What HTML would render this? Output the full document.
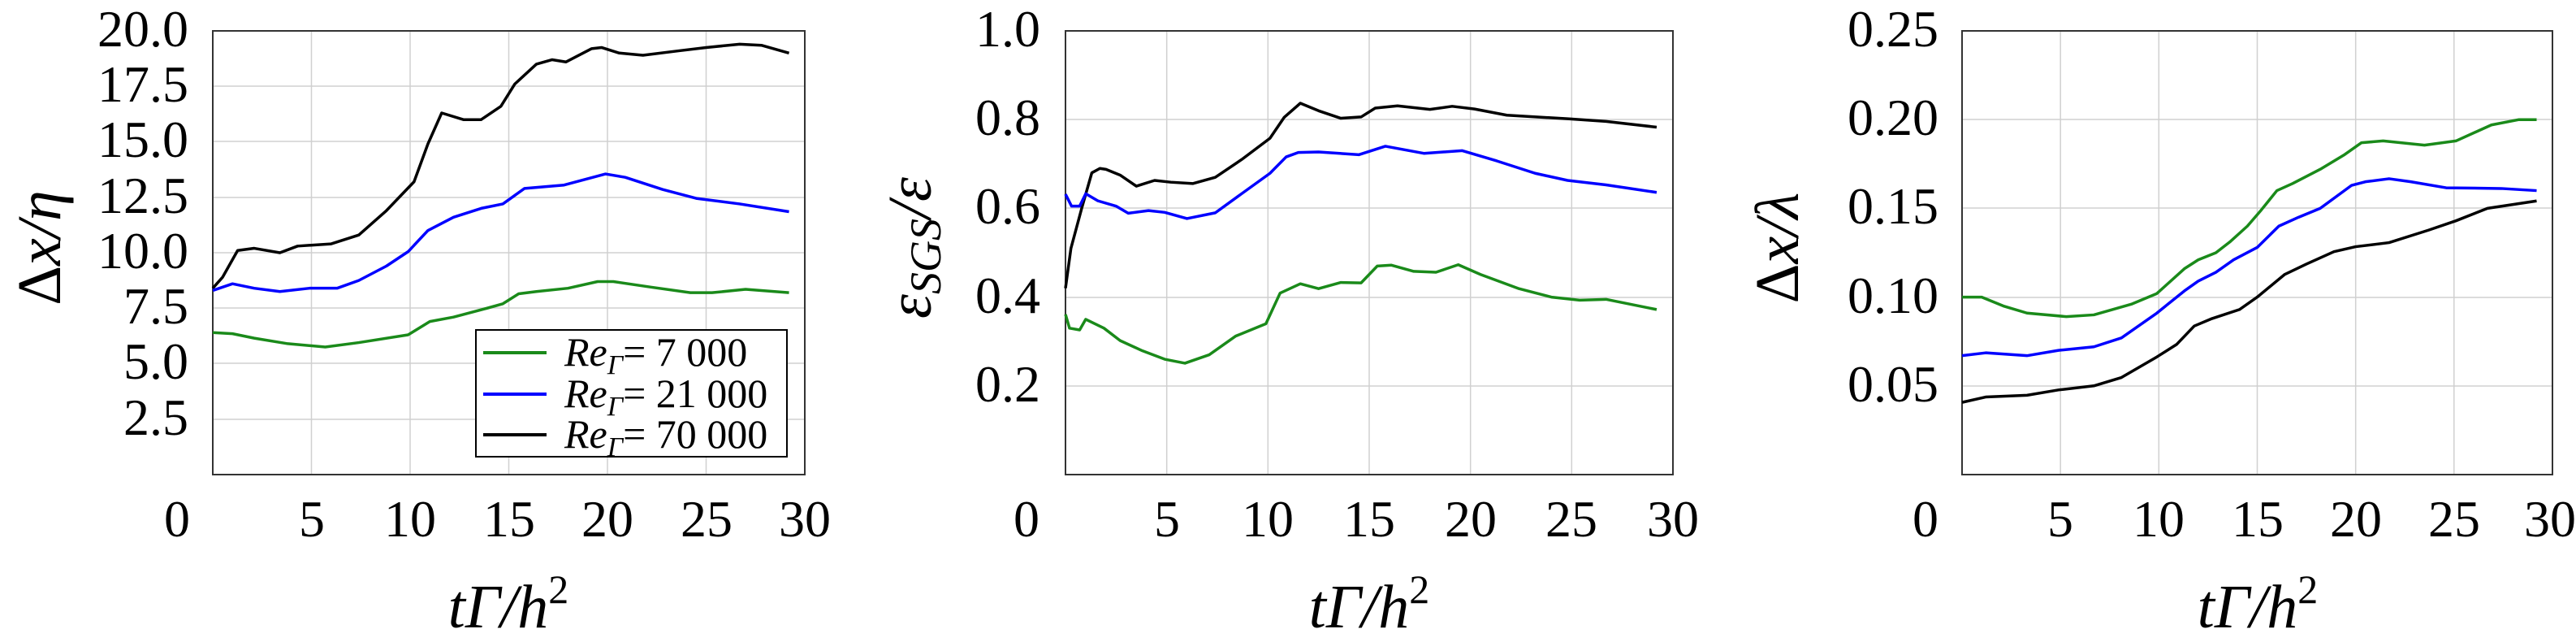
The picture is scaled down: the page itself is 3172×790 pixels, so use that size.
<!DOCTYPE html>
<html><head><meta charset="utf-8"><style>
html,body{margin:0;padding:0;background:#fff;font-family:"Liberation Serif","DejaVu Serif",serif}
svg{display:block}
svg text{font-family:"Liberation Serif","DejaVu Serif",serif;fill:#000}
.t{font-size:64px}
.grid{stroke:#d0d0d0;stroke-width:1.5}
.ax{fill:none;stroke:#333;stroke-width:2}
.l{fill:none;stroke-width:3.5;vector-effect:non-scaling-stroke;stroke-linejoin:round}
.al{font-size:76px;font-style:italic}
</style></head><body>
<svg width="3172" height="790" viewBox="0 0 3172 790" xmlns="http://www.w3.org/2000/svg" font-family="Liberation Serif, DejaVu Serif, serif">
<!-- Panel 1 -->
<g>
<g class="grid">
<line x1="383.5" y1="38" x2="383.5" y2="584"/><line x1="505" y1="38" x2="505" y2="584"/><line x1="626.5" y1="38" x2="626.5" y2="584"/><line x1="748" y1="38" x2="748" y2="584"/><line x1="869.5" y1="38" x2="869.5" y2="584"/>
<line x1="262" y1="106" x2="991" y2="106"/><line x1="262" y1="174" x2="991" y2="174"/><line x1="262" y1="243" x2="991" y2="243"/><line x1="262" y1="311" x2="991" y2="311"/><line x1="262" y1="379" x2="991" y2="379"/><line x1="262" y1="447" x2="991" y2="447"/><line x1="262" y1="516" x2="991" y2="516"/>
</g>
<rect class="ax" x="262" y="38" width="729" height="546"/>
<g transform="translate(262,584) scale(24.3,-27.3)">
<polyline class="l" stroke="#000" points="0,8.4 0.5,8.9 1.26,10.1 2.1,10.2 3.4,10 4.3,10.3 6,10.4 7.4,10.8 8.8,11.9 10.2,13.2 10.9,14.9 11.6,16.3 12.7,16 13.6,16 14.6,16.6 15.3,17.6 16.4,18.5 17.2,18.7 17.9,18.6 19.2,19.2 19.7,19.25 20.6,19 21.8,18.9 23.6,19.1 25,19.25 26.7,19.4 27.8,19.35 29.2,19"/>
<polyline class="l" stroke="#0000ff" points="0,8.3 1,8.6 2.1,8.4 3.4,8.25 4.9,8.4 6.3,8.4 7.4,8.75 8.8,9.4 9.9,10.05 10.9,11 12.2,11.6 13.6,12 14.7,12.2 15.8,12.9 17.8,13.05 19.9,13.55 20.9,13.4 22.8,12.85 24.5,12.45 26.7,12.2 29.2,11.85"/>
<polyline class="l" stroke="#1a8a1a" points="0,6.4 1,6.35 2.1,6.15 3.8,5.9 5.7,5.75 7.4,5.95 9.9,6.3 11,6.9 12.2,7.1 13.9,7.5 14.7,7.7 15.5,8.15 16.4,8.25 18,8.4 19.5,8.7 20.3,8.7 22.2,8.45 24.2,8.2 25.3,8.2 27,8.35 29.2,8.2"/>
</g>
<g class="t" text-anchor="end">
<text x="232" y="57">20.0</text><text x="232" y="125">17.5</text><text x="232" y="193">15.0</text><text x="232" y="262">12.5</text><text x="232" y="330">10.0</text><text x="232" y="398">7.5</text><text x="232" y="466">5.0</text><text x="232" y="535">2.5</text>
</g>
<g class="t" text-anchor="middle">
<text x="218" y="660">0</text><text x="384" y="660">5</text><text x="505" y="660">10</text><text x="627" y="660">15</text><text x="748" y="660">20</text><text x="870" y="660">25</text><text x="991" y="660">30</text>
</g>
<text class="al" x="626" y="772" text-anchor="middle">tΓ/h<tspan font-size="50" dy="-30" font-style="normal">2</tspan></text>
<text class="al" transform="translate(74,305) rotate(-90)" text-anchor="middle"><tspan font-style="normal">Δ</tspan>x/η</text>
<rect x="586" y="406" width="383" height="156" fill="#fff" stroke="#000" stroke-width="2"/>
<line x1="595" y1="434" x2="673" y2="434" stroke="#1a8a1a" stroke-width="4"/>
<line x1="595" y1="485" x2="673" y2="485" stroke="#0000ff" stroke-width="4"/>
<line x1="595" y1="535" x2="673" y2="535" stroke="#000" stroke-width="4"/>
<g font-size="50">
<text x="695" y="450"><tspan font-style="italic">Re</tspan><tspan font-style="italic" font-size="34" dy="10">Γ</tspan><tspan dy="-10">= 7 000</tspan></text>
<text x="695" y="501"><tspan font-style="italic">Re</tspan><tspan font-style="italic" font-size="34" dy="10">Γ</tspan><tspan dy="-10">= 21 000</tspan></text>
<text x="695" y="551"><tspan font-style="italic">Re</tspan><tspan font-style="italic" font-size="34" dy="10">Γ</tspan><tspan dy="-10">= 70 000</tspan></text>
</g>
</g>
<!-- Panel 2 -->
<g>
<g class="grid">
<line x1="1436.7" y1="38" x2="1436.7" y2="584"/><line x1="1561.3" y1="38" x2="1561.3" y2="584"/><line x1="1686" y1="38" x2="1686" y2="584"/><line x1="1810.7" y1="38" x2="1810.7" y2="584"/><line x1="1935.3" y1="38" x2="1935.3" y2="584"/>
<line x1="1312" y1="147" x2="2060" y2="147"/><line x1="1312" y1="256" x2="2060" y2="256"/><line x1="1312" y1="366" x2="2060" y2="366"/><line x1="1312" y1="475" x2="2060" y2="475"/>
</g>
<rect class="ax" x="1312" y="38" width="748" height="546"/>
<g transform="translate(1312,584) scale(24.93,-546)">
<polyline class="l" stroke="#000" points="0,0.42 0.27,0.51 0.8,0.6 1.3,0.68 1.7,0.69 2,0.688 2.7,0.675 3.5,0.65 4.4,0.663 5.2,0.659 6.3,0.656 7.4,0.67 8.7,0.71 10.1,0.758 10.8,0.805 11.6,0.837 12.5,0.82 13.6,0.803 14.6,0.806 15.3,0.826 16.4,0.831 18,0.823 19.1,0.83 20.2,0.824 21.8,0.81 24.8,0.802 26.7,0.796 29.2,0.783"/>
<polyline class="l" stroke="#0000ff" points="0,0.632 0.3,0.605 0.7,0.605 1,0.633 1.6,0.617 2.5,0.605 3.1,0.589 4.1,0.595 4.9,0.591 6,0.577 7.4,0.59 8.7,0.633 10.1,0.679 10.9,0.716 11.5,0.726 12.5,0.727 14.5,0.721 15.8,0.74 17.7,0.724 19.6,0.73 21.3,0.707 23.2,0.679 24.8,0.663 26.7,0.653 29.2,0.636"/>
<polyline class="l" stroke="#1a8a1a" points="0,0.361 0.2,0.33 0.7,0.326 1,0.35 1.9,0.33 2.7,0.302 3.8,0.279 4.9,0.26 5.9,0.251 7.1,0.27 8.4,0.312 9.9,0.34 10.6,0.409 11.6,0.43 12.5,0.419 13.6,0.433 14.6,0.432 15.4,0.47 16.1,0.472 17.2,0.458 18.3,0.456 19.4,0.473 20.5,0.451 22.4,0.419 24,0.4 25.4,0.393 26.7,0.395 29.2,0.372"/>
</g>
<g class="t" text-anchor="end">
<text x="1281" y="57">1.0</text><text x="1281" y="166">0.8</text><text x="1281" y="275">0.6</text><text x="1281" y="385">0.4</text><text x="1281" y="494">0.2</text>
</g>
<g class="t" text-anchor="middle">
<text x="1264" y="660">0</text><text x="1437" y="660">5</text><text x="1561" y="660">10</text><text x="1686" y="660">15</text><text x="1811" y="660">20</text><text x="1935" y="660">25</text><text x="2060" y="660">30</text>
</g>
<text class="al" x="1686" y="772" text-anchor="middle">tΓ/h<tspan font-size="50" dy="-30" font-style="normal">2</tspan></text>
<text class="al" transform="translate(1146,305) rotate(-90)" text-anchor="middle">ε<tspan font-size="54" dy="12">SGS</tspan><tspan dy="-12">/ε</tspan></text>
</g>
<!-- Panel 3 -->
<g>
<g class="grid">
<line x1="2537.2" y1="38" x2="2537.2" y2="584"/><line x1="2658.3" y1="38" x2="2658.3" y2="584"/><line x1="2779.5" y1="38" x2="2779.5" y2="584"/><line x1="2900.7" y1="38" x2="2900.7" y2="584"/><line x1="3021.8" y1="38" x2="3021.8" y2="584"/>
<line x1="2416" y1="147" x2="3143" y2="147"/><line x1="2416" y1="256" x2="3143" y2="256"/><line x1="2416" y1="366" x2="3143" y2="366"/><line x1="2416" y1="475" x2="3143" y2="475"/>
</g>
<rect class="ax" x="2416" y="38" width="727" height="546"/>
<g transform="translate(2416,584) scale(24.23,-2184)">
<polyline class="l" stroke="#1a8a1a" points="0,0.1 1,0.1 2.1,0.095 3.3,0.091 5.3,0.089 6.7,0.09 8.6,0.096 9.9,0.102 11.3,0.116 12,0.121 12.9,0.125 13.6,0.131 14.5,0.14 15.2,0.149 16,0.16 16.8,0.164 18.2,0.172 19.4,0.18 20.3,0.187 21.4,0.188 23.5,0.1856 25.1,0.188 26.9,0.197 28.3,0.2 29.2,0.2"/>
<polyline class="l" stroke="#0000ff" points="0,0.067 1.2,0.0686 3.3,0.067 4.9,0.07 6.7,0.072 8.1,0.077 9.9,0.091 11.3,0.1035 12,0.109 12.9,0.114 13.8,0.121 15,0.128 16.1,0.14 17.1,0.145 18.2,0.15 19.8,0.163 20.5,0.165 21.7,0.1667 22.8,0.165 24.6,0.1616 27.4,0.1612 29.2,0.16"/>
<polyline class="l" stroke="#000" points="0,0.0407 1.2,0.0437 3.3,0.0447 4.9,0.0477 6.7,0.05 8.1,0.0547 9.9,0.0663 10.9,0.0733 11.8,0.0837 12.7,0.0879 14.1,0.093 15,0.1 16.4,0.1128 17.5,0.1186 18.9,0.1256 20,0.1284 21.7,0.1307 23.7,0.1377 25.1,0.143 26.7,0.15 29.2,0.1542"/>
</g>
<g class="t" text-anchor="end">
<text x="2387" y="57">0.25</text><text x="2387" y="166">0.20</text><text x="2387" y="275">0.15</text><text x="2387" y="385">0.10</text><text x="2387" y="494">0.05</text>
</g>
<g class="t" text-anchor="middle">
<text x="2371" y="660">0</text><text x="2537" y="660">5</text><text x="2658" y="660">10</text><text x="2780" y="660">15</text><text x="2901" y="660">20</text><text x="3022" y="660">25</text><text x="3140" y="660">30</text>
</g>
<text class="al" x="2780" y="772" text-anchor="middle">tΓ/h<tspan font-size="50" dy="-30" font-style="normal">2</tspan></text>
<text class="al" transform="translate(2214,305) rotate(-90)" text-anchor="middle"><tspan font-style="normal">Δ</tspan>x/λ</text>
</g>
</svg>
</body></html>
